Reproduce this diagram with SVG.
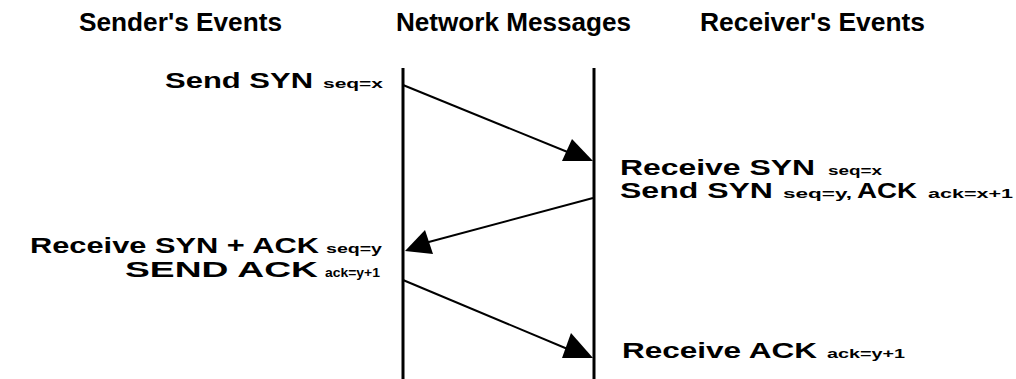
<svg xmlns="http://www.w3.org/2000/svg" width="1016" height="379" viewBox="0 0 1016 379">
<style>
.hdr{font-family:"Liberation Sans Narrow","Liberation Sans",sans-serif;font-weight:bold;font-size:26px;fill:#000}
.lbl{font-family:"Liberation Sans",Arial,sans-serif;font-weight:bold;font-size:22px;fill:#000}
.sub{font-family:"Liberation Sans",Arial,sans-serif;font-weight:bold;font-size:12px;fill:#000}
.life{stroke:#000;stroke-width:3;fill:none}
.msg{stroke:#000;stroke-width:2;fill:none}
.head{fill:#000;stroke:none}
</style>
<rect width="1016" height="379" fill="#fff"/>
<g id="headers">
<text class="hdr" x="79" y="31" textLength="203" lengthAdjust="spacingAndGlyphs">Sender's Events</text>
<text class="hdr" x="396" y="31" textLength="235" lengthAdjust="spacingAndGlyphs">Network Messages</text>
<text class="hdr" x="700" y="31" textLength="225" lengthAdjust="spacingAndGlyphs">Receiver's Events</text>
</g>
<g id="lifelines">
<line class="life" x1="403" y1="68" x2="403" y2="379"/>
<line class="life" x1="594" y1="68" x2="594" y2="379"/>
</g>
<g id="connectors">
<line class="msg" x1="403" y1="85" x2="570" y2="153"/>
<polygon class="head" points="572,139 562,161 593,161"/>
<line class="msg" x1="593" y1="198" x2="425" y2="243"/>
<polygon class="head" points="405,251 425,230 433,254"/>
<line class="msg" x1="403" y1="280" x2="570" y2="350"/>
<polygon class="head" points="571,333 562,358 593,358"/>
</g>
<g id="node-send-syn">
<text class="lbl" x="165" y="88" textLength="148" lengthAdjust="spacingAndGlyphs">Send SYN</text>
<text class="sub" x="323" y="88" textLength="60" lengthAdjust="spacingAndGlyphs">seq=x</text>
</g>
<g id="node-receive-syn">
<text class="lbl" x="620" y="175" textLength="195" lengthAdjust="spacingAndGlyphs">Receive SYN</text>
<text class="sub" x="828" y="175" textLength="54" lengthAdjust="spacingAndGlyphs">seq=x</text>
<text class="lbl" x="620" y="198" textLength="153" lengthAdjust="spacingAndGlyphs">Send SYN</text>
<text class="sub" x="783" y="198" textLength="69" lengthAdjust="spacingAndGlyphs">seq=y,</text>
<text class="lbl" x="857" y="198" textLength="60" lengthAdjust="spacingAndGlyphs">ACK</text>
<text class="sub" x="928" y="198" textLength="85" lengthAdjust="spacingAndGlyphs">ack=x+1</text>
</g>
<g id="node-receive-synack">
<text class="lbl" x="30" y="253" textLength="289" lengthAdjust="spacingAndGlyphs">Receive SYN + ACK</text>
<text class="sub" x="326" y="253" textLength="56" lengthAdjust="spacingAndGlyphs">seq=y</text>
<text class="lbl" x="125" y="277" textLength="193" lengthAdjust="spacingAndGlyphs">SEND ACK</text>
<text class="sub" x="325" y="277" textLength="55" lengthAdjust="spacingAndGlyphs">ack=y+1</text>
</g>
<g id="node-receive-ack">
<text class="lbl" x="622" y="358" textLength="195" lengthAdjust="spacingAndGlyphs">Receive ACK</text>
<text class="sub" x="827" y="358" textLength="78" lengthAdjust="spacingAndGlyphs">ack=y+1</text>
</g>
</svg>
